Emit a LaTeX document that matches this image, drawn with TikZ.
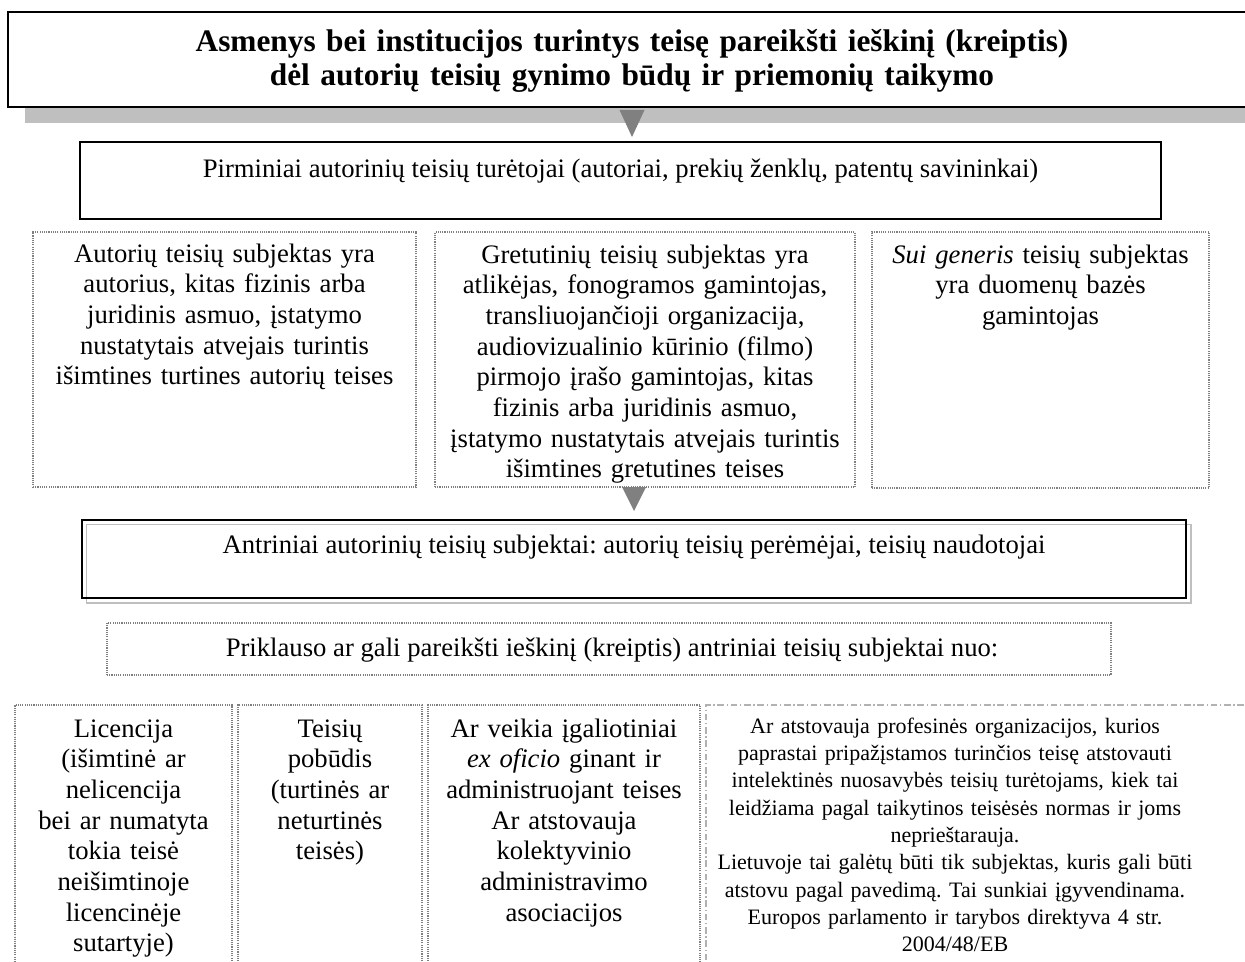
\documentclass[tikz,border=0pt]{standalone}
\usepackage{fontspec}
\setmainfont{Liberation Serif}
\usetikzlibrary{fit,calc}
\definecolor{shadowgray}{HTML}{BFBFBF}
\definecolor{arrowgray}{HTML}{808080}
\definecolor{dotgray}{HTML}{7F7F7F}
\tikzset{
	framebox/.style={draw, inner sep=0pt, outer sep=0pt},
	solidframe/.style={framebox, line width=0.7pt},
	dotframe/.style={framebox, draw=dotgray, line width=0.6pt, dash pattern=on 0.5pt off 0.5pt},
	dashdotframe/.style={framebox, draw=black!30, line width=0.5pt, dash pattern=on 3pt off 1.2pt on 0.6pt off 1.2pt},
	bodytext/.style={anchor=base, align=center, inner sep=0pt, font=\fontsize{12}{13.8}\selectfont\frenchspacing}
}

\begin{document}
\begin{tikzpicture}[x=0.45pt, y=-0.45pt]
	\useasboundingbox (0,0) rectangle (1245,961);
	% title with shadow
	\fill[shadowgray] (25,28) rectangle (1273,123);
	\node[solidframe, line width=1pt, fill=white, fit={(8,12) (1256,107)}] (head) {};
	\node[bodytext, text width=560pt, font=\fontsize{14.1}{14.85}\selectfont\bfseries] (headtxt) at (632,52) {Asmenys bei institucijos turintys teisę pareikšti ieškinį (kreiptis)\\ dėl autorių teisių gynimo būdų ir priemonių taikymo};
	\node[solidframe, fit={(80,142) (1161,219)}] (pirm) {};
	\node[bodytext] (pirmtxt) at (620.5,177) {Pirminiai autorinių teisių turėtojai (autoriai, prekių ženklų, patentų savininkai)};
	\fill[arrowgray] ($(head.south)+(-12.5,3)$) -- ($(head.south)+(12.5,3)$) -- ($(head.south |- pirm.north)+(0,-5)$) -- cycle;
	% subjects
	\node[dotframe, fit={(33,232) (416,487)}] (autb) {};
	\node[bodytext, text width=165pt] (autt) at ($(autb.north)+(0,30)$) {Autorių teisių subjektas yra\\ autorius, kitas fizinis arba\\ juridinis asmuo, įstatymo\\ nustatytais atvejais turintis\\ išimtines turtines autorių teises};
	\node[dotframe, fit={(435,232) (855,487)}] (gretb) {};
	\node[bodytext, text width=185pt] (grett) at ($(gretb.north)+(0,31)$) {Gretutinių teisių subjektas yra\\ atlikėjas, fonogramos gamintojas,\\ transliuojančioji organizacija,\\ audiovizualinio kūrinio (filmo)\\ pirmojo įrašo gamintojas, kitas\\ fizinis arba juridinis asmuo,\\ įstatymo nustatytais atvejais turintis\\ išimtines gretutines teises};
	\node[dotframe, fit={(872,232) (1209,488)}] (suib) {};
	\node[bodytext, text width=145pt] (suit) at ($(suib.north)+(0,31)$) {\textit{Sui generis} teisių subjektas\\ yra duomenų bazės\\ gamintojas};
	% secondary
	\node[framebox, draw=shadowgray, line width=0.7pt, fit={(86.5,524.5) (1191,603)}] (antrsh) {};
	\node[solidframe, fit={(82,520) (1186,598)}] (antr) {};
	\node[bodytext] (antrt) at ($(antr.north)+(0,33)$) {Antriniai autorinių teisių subjektai: autorių teisių perėmėjai, teisių naudotojai};
	\fill[arrowgray] ($(antr.north |- gretb.south)+(-12,0)$) -- ($(antr.north |- gretb.south)+(12,0)$) -- ($(antr.north)+(0,-9)$) -- cycle;
	\node[dotframe, fit={(107,623) (1111,675)}] (prikl) {};
	\node[bodytext] (priklt) at ($(prikl.north)+(3,33)$) {Priklauso ar gali pareikšti ieškinį (kreiptis) antriniai teisių subjektai nuo:};
	% conditions
	\node[dotframe, fit={(15,705) (232,975)}] (licb) {};
	\node[bodytext, text width=95pt] (lict) at ($(licb.north)+(0,32)$) {Licencija\\ (išimtinė ar\\ nelicencija\\ bei ar numatyta\\ tokia teisė\\ neišimtinoje\\ licencinėje\\ sutartyje)};
	\node[dotframe, fit={(238,705) (422,975)}] (pobb) {};
	\node[bodytext, text width=80pt] (pobt) at ($(pobb.north)+(0,32)$) {Teisių\\ pobūdis\\ (turtinės ar\\ neturtinės\\ teisės)};
	\node[dotframe, fit={(428,705) (700,975)}] (igalb) {};
	\node[bodytext, text width=118pt] (igalt) at ($(igalb.north)+(0,32)$) {Ar veikia įgaliotiniai\\ \textit{ex oficio} ginant ir\\ administruojant teises\\ Ar atstovauja\\ kolektyvinio\\ administravimo\\ asociacijos};
	\node[dashdotframe, fit={(706,705) (1260,975)}] (profb) {};
	\node[bodytext, text width=225pt, font=\fontsize{9.9}{12.3}\selectfont\frenchspacing] (proft) at (955,733) {Ar atstovauja profesinės organizacijos, kurios\\ paprastai pripažįstamos turinčios teisę atstovauti\\ intelektinės nuosavybės teisių turėtojams, kiek tai\\ leidžiama pagal taikytinos teisėsės normas ir joms\\ neprieštarauja.\\ Lietuvoje tai galėtų būti tik subjektas, kuris gali būti\\ atstovu pagal pavedimą. Tai sunkiai įgyvendinama.\\ Europos parlamento ir tarybos direktyva 4 str.\\ 2004/48/EB};
\end{tikzpicture}
\end{document}
